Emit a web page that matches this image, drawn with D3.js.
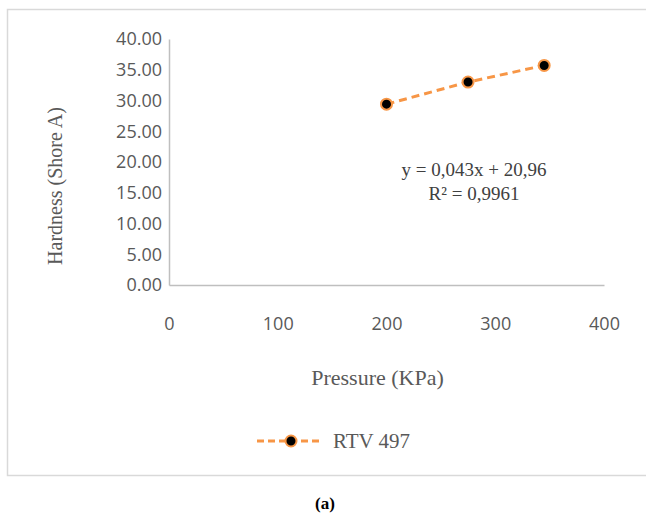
<!DOCTYPE html>
<html>
<head>
<meta charset="utf-8">
<script src="https://cdn.jsdelivr.net/npm/d3@7"></script>
<style>
  body { margin: 0; background: #fff; }
</style>
</head>
<body>
<svg id="chart"></svg>
<script>
// data
const pressure = [200, 275, 345];
const hardness = [29.4, 33.0, 35.7];
const seriesName = 'RTV 497';
const xTicks = [0, 100, 200, 300, 400];
const yTicks = [0, 5, 10, 15, 20, 25, 30, 35, 40];
const trendText = ['y = 0,043x + 20,96', 'R\u00b2 = 0,9961'];

// drawing constants
const W = 646, H = 531;
const LEFT = 169, RIGHT = 604, TOP = 39, BOTTOM = 285;
const ORANGE = '#f79646';
const SERIF = 'Liberation Serif, DejaVu Serif, serif';
const SANS = 'Open Sans, Liberation Sans, sans-serif';

const svg = d3.select('#chart')
  .attr('width', W)
  .attr('height', H);

// chart frame
svg.append('rect')
  .attr('x', 7.5).attr('y', 9.5)
  .attr('width', 660).attr('height', 466)
  .attr('fill', '#fff')
  .attr('stroke', '#d9d9d9')
  .attr('stroke-width', 1.5);

const x = d3.scaleLinear().domain([0, 400]).range([LEFT, RIGHT]);
const y = d3.scaleLinear().domain([0, 40]).range([BOTTOM, TOP]);

// axes - only the lines, labels placed like excel does
const xAxis = svg.append('g')
  .attr('transform', `translate(0,${BOTTOM})`)
  .call(d3.axisBottom(x).tickValues(xTicks).tickSize(0).tickPadding(32));
const yAxis = svg.append('g')
  .attr('transform', `translate(${LEFT},0)`)
  .call(d3.axisLeft(y).tickValues(yTicks).tickSize(0).tickPadding(7).tickFormat(d3.format('.2f')));

[xAxis, yAxis].forEach(ax => {
  ax.select('.domain').attr('stroke', '#bfbfbf').attr('stroke-width', 1.5);
  ax.selectAll('text')
    .attr('font-family', SANS)
    .attr('font-size', 18)
    .attr('fill', '#595959');
});

// axis titles
svg.append('text')
  .attr('x', (LEFT + RIGHT) / 2 - 9).attr('y', 385)
  .attr('text-anchor', 'middle')
  .attr('font-family', SERIF).attr('font-size', 22)
  .attr('fill', '#595959')
  .text('Pressure (KPa)');

svg.append('text')
  .attr('transform', `translate(62,${(TOP + BOTTOM) / 2 + 24}) rotate(-90)`)
  .attr('text-anchor', 'middle')
  .attr('font-family', SERIF).attr('font-size', 20)
  .attr('fill', '#595959')
  .text('Hardness (Shore A)');

// series
const pts = pressure.map((p, i) => [p, hardness[i]]);

svg.append('path')
  .datum(pts)
  .attr('fill', 'none')
  .attr('stroke', ORANGE)
  .attr('stroke-width', 3)
  .attr('stroke-dasharray', '8,5')
  .attr('d', d3.line().x(d => x(d[0])).y(d => y(d[1])));

svg.selectAll('circle.pt')
  .data(pts)
  .join('circle')
  .attr('class', 'pt')
  .attr('cx', d => x(d[0]))
  .attr('cy', d => y(d[1]))
  .attr('r', 5.5)
  .attr('fill', '#000')
  .attr('stroke', ORANGE)
  .attr('stroke-width', 2);

// trendline label
svg.append('text')
  .attr('x', 474).attr('y', 176)
  .attr('text-anchor', 'middle')
  .attr('font-family', SERIF).attr('font-size', 19)
  .attr('fill', '#404040')
  .selectAll('tspan')
  .data(trendText)
  .join('tspan')
  .attr('x', 474)
  .attr('dy', (d, i) => i ? 24 : 0)
  .text(d => d);

// legend
const lg = svg.append('g').attr('transform', 'translate(257,441)');
lg.append('line')
  .attr('x1', 0).attr('x2', 65)
  .attr('stroke', ORANGE).attr('stroke-width', 3)
  .attr('stroke-dasharray', '7,4');
lg.append('circle')
  .attr('cx', 34).attr('r', 5.5)
  .attr('fill', '#000').attr('stroke', ORANGE).attr('stroke-width', 2);
lg.append('text')
  .attr('x', 76).attr('y', 7)
  .attr('font-family', SERIF).attr('font-size', 21)
  .attr('fill', '#595959')
  .text(seriesName);

// caption
svg.append('text')
  .attr('x', 325).attr('y', 509)
  .attr('text-anchor', 'middle')
  .attr('font-family', SERIF).attr('font-size', 17)
  .attr('font-weight', 'bold')
  .attr('fill', '#000')
  .text('(a)');
</script>
</body>
</html>
